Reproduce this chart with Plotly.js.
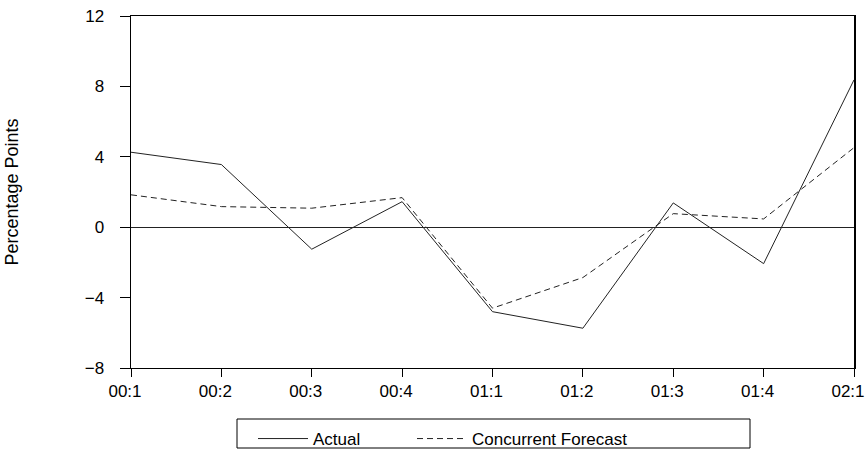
<!DOCTYPE html>
<html><head><meta charset="utf-8">
<script src="https://cdn.plot.ly/plotly-3.0.1.min.js"></script>
<style>html,body{margin:0;padding:0;background:#fff}</style>
</head><body>
<div id="chart" style="width:868px;height:451px"></div>
<script>
var quarters = ["00:1","00:2","00:3","00:4","01:1","01:2","01:3","01:4","02:1"];
var actual = [4.26, 3.56, -1.25, 1.45, -4.8, -5.74, 1.38, -2.07, 8.37];
var forecast = [1.84, 1.17, 1.08, 1.68, -4.6, -2.86, 0.77, 0.47, 4.52];

var traces = [
  {x: quarters, y: actual, type: 'scatter', mode: 'lines', name: 'Actual',
   line: {color: '#222', width: 1}, legend: 'legend'},
  {x: quarters, y: forecast, type: 'scatter', mode: 'lines', name: 'Concurrent Forecast',
   line: {color: '#222', width: 1, dash: '6px,4px'}, legend: 'legend2'}
];
var legBase = {orientation: 'h', xref: 'container', yref: 'container',
  y: 1 - 421/451, xanchor: 'left', yanchor: 'top',
  borderwidth: 0, itemwidth: 50, font: {size: 17}, bgcolor: 'rgba(0,0,0,0)'};
var layout = {
  width: 868, height: 451,
  margin: {l: 131, r: 14, t: 16, b: 83},
  paper_bgcolor: '#fff', plot_bgcolor: '#fff',
  font: {family: 'Liberation Sans, Arial, sans-serif', size: 17, color: '#000'},
  showlegend: true,
  legend: Object.assign({}, legBase, {x: 253/868}),
  legend2: Object.assign({}, legBase, {x: 412/868}),
  shapes: [{type: 'rect', xref: 'paper', yref: 'paper',
    x0: (237-131)/723, x1: (750-131)/723, y0: -(419-368)/352, y1: -(448-368)/352,
    line: {color: '#000', width: 1}}],
  xaxis: {type: 'category', range: [0, 8], showline: true, linecolor: '#000', linewidth: 1,
    mirror: true, ticks: 'outside', ticklen: 8, tickcolor: '#000', showgrid: false,
    zeroline: false, tickfont: {size: 17}, ticklabelshift: -6},
  yaxis: {range: [-8, 12], tickvals: [-8, -4, 0, 4, 8, 12], showline: true, linecolor: '#000',
    linewidth: 1.5, mirror: true, ticks: 'outside', ticklen: 10, tickcolor: '#000',
    ticklabelstandoff: 12,
    showgrid: false, zeroline: true, zerolinecolor: '#222', zerolinewidth: 1,
    tickfont: {size: 17},
    title: {text: 'Percentage Points', standoff: 61, font: {size: 18}}}
};
Plotly.newPlot('chart', traces, layout, {displayModeBar: false, staticPlot: true});
</script>
</body></html>
